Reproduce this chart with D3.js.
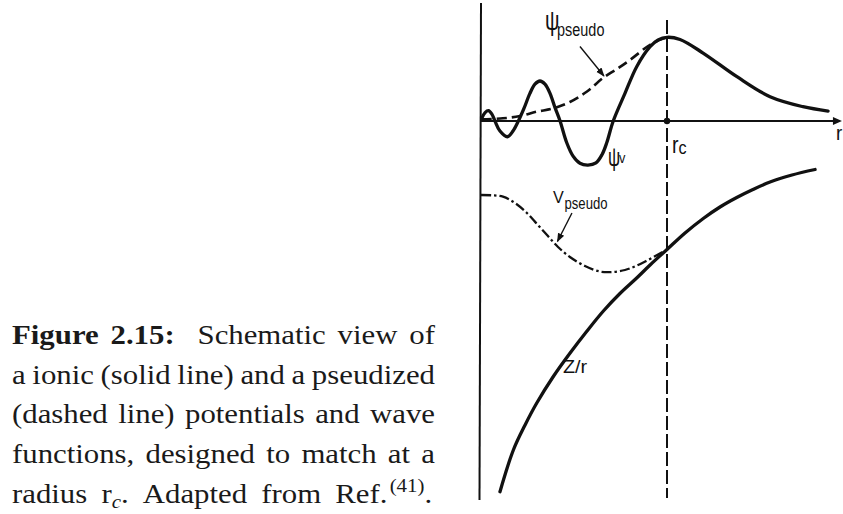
<!DOCTYPE html>
<html>
<head>
<meta charset="utf-8">
<script src="https://cdn.jsdelivr.net/npm/d3@7"></script>
<style>
  html, body { margin: 0; padding: 0; background: #fff; }
  svg { display: block; }
</style>
</head>
<body>
<svg id="fig" width="843" height="514"></svg>
<script>
// ---------------------------------------------------------------------------
// Data: radial coordinate r in units of the cutoff radius r_c.
// Wave functions are normalised to their value at r_c; potentials in arbitrary units.
// ---------------------------------------------------------------------------
const psiValenceR = [0.004, 0.022, 0.040, 0.059, 0.075, 0.102, 0.142, 0.172, 0.201, 0.231, 0.263, 0.290, 0.317,
                     0.344, 0.371, 0.398, 0.425, 0.461, 0.495, 0.532, 0.575, 0.618, 0.651, 0.676, 0.711, 0.774,
                     0.837, 0.909, 0.952, 1.000, 1.070, 1.194, 1.376, 1.554, 1.731, 1.866];
const psiValence  = [0.032, 0.100, 0.123, 0.080, 0.000, -0.120, -0.188, -0.120, 0.000, 0.150, 0.330, 0.440, 0.478,
                     0.440, 0.330, 0.160, 0.000, -0.260, -0.420, -0.505, -0.526, -0.500, -0.400, -0.260, 0.000, 0.330,
                     0.649, 0.888, 0.968, 1.000, 0.974, 0.812, 0.529, 0.290, 0.171, 0.119];

const psiPseudoR = [0.004, 0.118, 0.210, 0.299, 0.387, 0.478, 0.570, 0.656, 0.731, 0.801, 0.891, 0.941, 1.000];
const psiPseudo  = [0.020, 0.032, 0.060, 0.111, 0.149, 0.227, 0.352, 0.514, 0.621, 0.729, 0.884, 0.950, 1.000];

const potIonR = [0.102, 0.174, 0.237, 0.299, 0.387, 0.478, 0.570, 0.658, 0.747, 0.837, 0.909, 1.000, 1.097,
                 1.195, 1.285, 1.375, 1.462, 1.554, 1.672, 1.796];
const potIon  = [-3.417, -3.000, -2.750, -2.533, -2.270, -2.033, -1.810, -1.610, -1.435, -1.280, -1.150, -0.995,
                 -0.830, -0.685, -0.570, -0.475, -0.395, -0.320, -0.250, -0.195];

const potPseudoR = [0.000, 0.059, 0.118, 0.183, 0.247, 0.301, 0.355, 0.414, 0.478, 0.559, 0.640, 0.704, 0.774,
                    0.839, 0.898, 0.952, 1.000];
const potPseudo  = [-0.450, -0.453, -0.467, -0.530, -0.630, -0.740, -0.850, -0.970, -1.070, -1.160, -1.215,
                    -1.220, -1.200, -1.155, -1.100, -1.045, -0.995];

const rCut = 1.0;          // matching radius r_c
const rAxisEnd = 1.935;    // end of the r axis

const captionLead  = ["Figure", "2.15:"];
const captionLines = [
  "Schematic view of",
  "a ionic (solid line) and a pseudized",
  "(dashed line) potentials and wave",
  "functions, designed to match at a"
];

// ---------------------------------------------------------------------------
const svg = d3.select("#fig");
const ink = "#111";

const x    = d3.scaleLinear().domain([0, 1]).range([481, 667]);
const yPsi = d3.scaleLinear().domain([0, 1]).range([121, 37.3]);
const yV   = d3.scaleLinear().domain([0, -1]).range([150, 250]);

const zip = (a, b) => a.map((v, i) => [v, b[i]]);
const curve = d3.curveCatmullRom.alpha(0.5);
const psiLine = d3.line().x(d => x(d[0])).y(d => yPsi(d[1])).curve(curve);
const vLine   = d3.line().x(d => x(d[0])).y(d => yV(d[1])).curve(curve);

// arrowheads
const defs = svg.append("defs");
defs.append("marker")
  .attr("id", "head").attr("viewBox", "0 0 10 10")
  .attr("refX", 9).attr("refY", 5)
  .attr("markerWidth", 9).attr("markerHeight", 9)
  .attr("markerUnits", "userSpaceOnUse")
  .attr("orient", "auto")
  .append("path").attr("d", "M0,1.2 L10,5 L0,8.8 Z").attr("fill", ink);

const plot = svg.append("g");

// vertical axis (left edge of the drawing)
plot.append("line")
  .attr("x1", x(0)).attr("x2", x(0) - 1.5)
  .attr("y1", 3).attr("y2", 500)
  .attr("stroke", ink).attr("stroke-width", 2);

// r axis with arrow
plot.append("line")
  .attr("x1", x(0)).attr("x2", x(rAxisEnd) - 6)
  .attr("y1", yPsi(0)).attr("y2", yPsi(0))
  .attr("stroke", ink).attr("stroke-width", 2);
plot.append("path")
  .attr("d", `M${x(rAxisEnd) - 8},${yPsi(0) - 4} L${x(rAxisEnd) + 1},${yPsi(0)} L${x(rAxisEnd) - 8},${yPsi(0) + 4} Z`)
  .attr("fill", ink);

// cutoff radius marker
plot.append("line")
  .attr("x1", x(rCut)).attr("x2", x(rCut))
  .attr("y1", 20).attr("y2", 498)
  .attr("stroke", ink).attr("stroke-width", 2)
  .attr("stroke-dasharray", "14,4");
plot.append("circle")
  .attr("cx", x(rCut)).attr("cy", yPsi(0)).attr("r", 3.2).attr("fill", ink);

// wave functions
plot.append("path").datum(zip(psiPseudoR, psiPseudo))
  .attr("d", psiLine).attr("fill", "none")
  .attr("stroke", ink).attr("stroke-width", 2.6)
  .attr("stroke-dasharray", "10,5");
plot.append("path").datum(zip(psiValenceR, psiValence))
  .attr("d", psiLine).attr("fill", "none")
  .attr("stroke", ink).attr("stroke-width", 3.3)
  .attr("stroke-linecap", "round");

// potentials
plot.append("path").datum(zip(potPseudoR, potPseudo))
  .attr("d", vLine).attr("fill", "none")
  .attr("stroke", ink).attr("stroke-width", 2.3)
  .attr("stroke-dasharray", "10,3,2.5,3");
plot.append("path").datum(zip(potIonR, potIon))
  .attr("d", vLine).attr("fill", "none")
  .attr("stroke", ink).attr("stroke-width", 3.3)
  .attr("stroke-linecap", "round");

// labels
const sans = "'Liberation Sans', Arial, sans-serif";
function label(px, py, txt, size, sx) {
  plot.append("text")
    .attr("transform", `translate(${px},${py}) scale(${sx},1)`)
    .attr("font-family", sans).attr("font-size", size)
    .attr("fill", ink).text(txt);
}
label(x(0.344), yPsi(1.087), "ψ", 27, 0.75);
label(x(0.409), yPsi(1.020), "pseudo", 19, 0.76);
label(x(0.683), yPsi(-0.540), "ψ", 26, 0.66);
label(x(0.742), yPsi(-0.502), "v", 15, 0.85);
label(x(1.027), yPsi(-0.382), "r", 23, 0.85);
label(x(1.062), yPsi(-0.400), "c", 19, 0.85);
label(x(1.909), yPsi(-0.227), "r", 21, 0.9);
label(x(0.387), yV(-0.53), "V", 17, 0.95);
label(x(0.449), yV(-0.585), "pseudo", 16, 0.82);
label(x(0.441), yV(-2.23), "Z/r", 18, 1.1);

// pointer arrows
plot.append("line")
  .attr("x1", x(0.532)).attr("y1", yPsi(0.890))
  .attr("x2", x(0.661)).attr("y2", yPsi(0.538))
  .attr("stroke", ink).attr("stroke-width", 1.4)
  .attr("marker-end", "url(#head)");
plot.append("line")
  .attr("x1", x(0.489)).attr("y1", yV(-0.63))
  .attr("x2", x(0.411)).attr("y2", yV(-0.915))
  .attr("stroke", ink).attr("stroke-width", 1.4)
  .attr("marker-end", "url(#head)");

// ---------------------------------------------------------------------------
// Caption: justified serif block to the left of the drawing
// ---------------------------------------------------------------------------
const capLeft = 12, capRight = 435, capBase = 344, capLead = 39.75, capSize = 28, capStretch = 1.1;
const serif = "'Liberation Serif', 'Times New Roman', serif";
const cap = svg.append("g").attr("fill", "#1a1a1a")
  .attr("font-family", serif).attr("font-size", capSize);
const subSize = 19;

// each word is either plain text or a builder adding tspans (sub/superscripts)
function justifyLine(words, y, right, boldCount, extraGap) {
  const g = cap.append("g").attr("transform", `translate(${capLeft},0) scale(${capStretch},1)`);
  const innerW = (right - capLeft) / capStretch;
  const nodes = words.map((w, i) => {
    const t = g.append("text").attr("y", y).attr("font-weight", i < boldCount ? "bold" : null);
    if (typeof w === "function") w(t); else t.text(w);
    return t;
  });
  const widths = nodes.map(n => n.node().getComputedTextLength());
  const gap = (innerW - d3.sum(widths) - extraGap) / (words.length - 1);
  let cx = 0;
  nodes.forEach((n, i) => {
    n.attr("x", cx);
    cx += widths[i] + gap + (i === boldCount - 1 ? extraGap : 0);
  });
}
justifyLine(captionLead.concat(captionLines[0].split(" ")), capBase, capRight, captionLead.length, 10);
captionLines.slice(1).forEach((line, i) =>
  justifyLine(line.split(" "), capBase + (i + 1) * capLead, capRight, 0, 0));

const lastLine = [
  "radius",
  t => { t.append("tspan").text("r");
         t.append("tspan").attr("font-style", "italic").attr("font-size", subSize).attr("dy", 5).text("c");
         t.append("tspan").attr("dy", -5).text("."); },
  "Adapted",
  "from",
  t => { t.append("tspan").text("Ref.");
         t.append("tspan").attr("font-size", subSize).attr("dy", -11).attr("dx", 2).text("(41)");
         t.append("tspan").attr("dy", 11).text("."); }
];
justifyLine(lastLine, capBase + 4 * capLead, capRight - 5, 0, 0);
</script>
</body>
</html>
